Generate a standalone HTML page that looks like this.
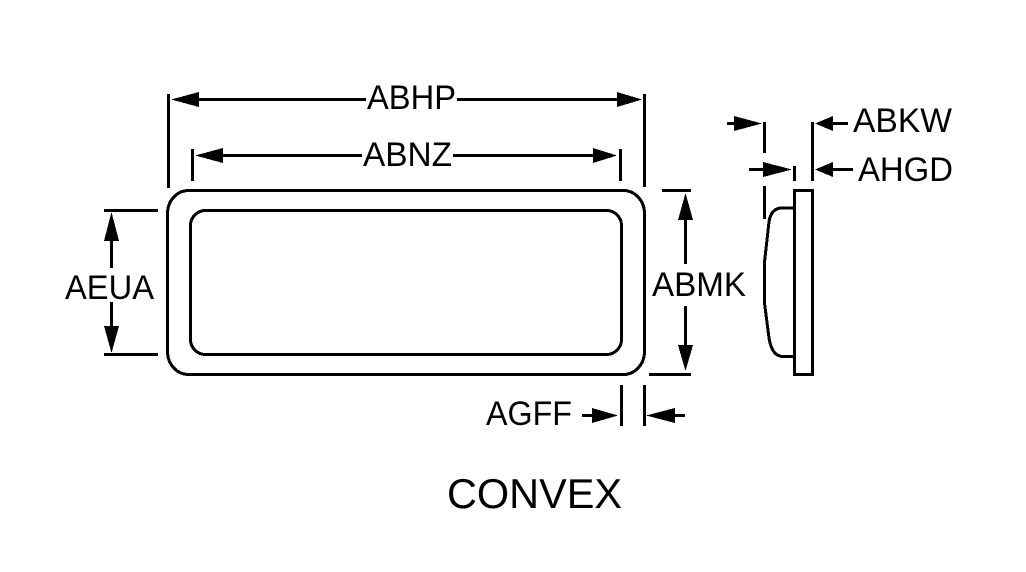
<!DOCTYPE html>
<html>
<head>
<meta charset="utf-8">
<style>
html,body{margin:0;padding:0;background:#fff;width:1026px;height:572px;overflow:hidden}
svg{display:block}
text{font-family:"Liberation Sans",Arial,sans-serif;fill:#000;font-size:34.5px}
.l{stroke:#000;stroke-width:3;fill:none;shape-rendering:crispEdges}
.a{fill:#000;stroke:none;shape-rendering:crispEdges}
</style>
</head>
<body>
<svg width="1026" height="572" viewBox="0 0 1026 572" xmlns="http://www.w3.org/2000/svg">
<rect width="1026" height="572" fill="#fff"/>
<!-- body -->
<rect class="l" x="167.5" y="190.5" width="477" height="184" rx="21" ry="23"/>
<rect class="l" x="190.5" y="210.5" width="431" height="144" rx="15" ry="15"/>
<!-- ABHP -->
<path class="l" d="M168.500 94V188M644.500 94V187M195 99.500H366M457 99.500H620"/>
<path class="a" d="M171 99.500L199 92V107ZM642 99.500L617 92V107Z"/>
<text x="367" y="109" textLength="89" lengthAdjust="spacingAndGlyphs">ABHP</text>
<!-- ABNZ -->
<path class="l" d="M192.500 149V181M620.500 149V181M220 155.500H362M453 155.500H596"/>
<path class="a" d="M195 155.500L223 148V163ZM617 155.500L593 148V163Z"/>
<text x="363" y="166" textLength="89" lengthAdjust="spacingAndGlyphs">ABNZ</text>
<!-- AEUA -->
<path class="l" d="M104 210.500H158M104 354.500H158M111.500 238V268M111.500 302V328"/>
<path class="a" d="M111.500 212L104 241H119ZM111.500 353L104 326H119Z"/>
<text x="65" y="299" textLength="89" lengthAdjust="spacingAndGlyphs">AEUA</text>
<!-- ABMK -->
<path class="l" d="M662 190.500H691M649 374.500H691M685.500 218V264M685.500 306V347"/>
<path class="a" d="M685.500 193L678 220H693ZM685.500 371L678 345H693Z"/>
<text x="652" y="296" textLength="94" lengthAdjust="spacingAndGlyphs">ABMK</text>
<!-- AGFF -->
<path class="l" d="M621.500 385V426M644.500 385V426M582 415.500H595M672 415.500H685"/>
<path class="a" d="M618 415.500L592 408V423ZM646 415.500L675 408V423Z"/>
<text x="486" y="425" textLength="86" lengthAdjust="spacingAndGlyphs">AGFF</text>
<!-- side view -->
<rect class="l" x="794.500" y="190.500" width="18" height="184"/>
<path class="l" d="M794 208H782Q771 208 769 222L764.500 262V303L769 338Q772 356.500 783 356.500H794"/>
<path class="l" d="M764.500 122V153M764.500 186V219M812.500 122V181M794.500 166V181M727 123.500H737M749 169.500H766M830 123.500H848M830 169.500H853"/>
<path class="a" d="M762 123.500L734 116V131ZM792 169.500L763 162V177ZM815 123.500L833 116V131ZM815 169.500L833 162V177Z"/>
<text x="853" y="132" textLength="99" lengthAdjust="spacingAndGlyphs">ABKW</text>
<text x="858" y="181" textLength="95" lengthAdjust="spacingAndGlyphs">AHGD</text>
<!-- caption -->
<text x="447" y="508" textLength="175" lengthAdjust="spacingAndGlyphs" style="font-size:42px">CONVEX</text>
</svg>
</body>
</html>
